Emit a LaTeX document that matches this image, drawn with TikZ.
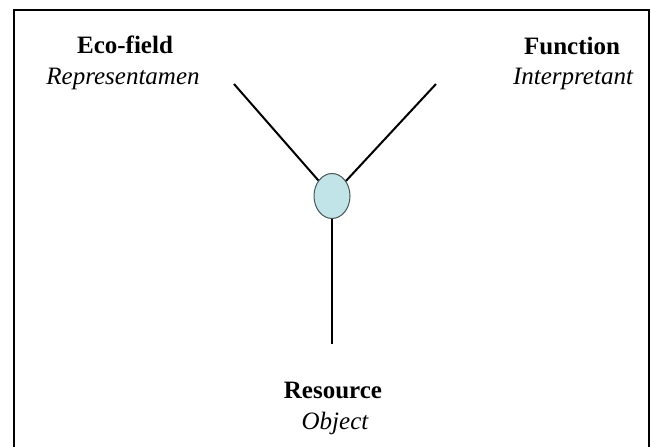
\documentclass[tikz,border=0pt]{standalone}
\usepackage{fontspec}
\setmainfont{Liberation Serif}
\usetikzlibrary{shapes.geometric}
\definecolor{hubfill}{RGB}{192,228,231}
\definecolor{hubline}{RGB}{70,85,85}
\tikzset{
  lbl/.style={anchor=base, inner sep=0pt, font=\fontsize{25}{30}\selectfont},
  title/.style={lbl, font=\fontsize{25}{30}\selectfont\bfseries},
  sub/.style={lbl, font=\fontsize{25}{30}\selectfont\itshape},
  arm/.style={line width=2pt, black},
  hub/.style={ellipse, draw=hubline, fill=hubfill, line width=1pt, minimum width=36pt, minimum height=45pt, inner sep=0pt}
}
\begin{document}
\begin{tikzpicture}[x=1pt,y=-1pt]
\useasboundingbox (0,0) rectangle (651,447);
\draw[line width=2.5pt] (14,470) -- (14,10) -- (649,10) -- (649,470);
\node[hub] (c) at (332,196) {};
\coordinate (l) at (234,84);
\coordinate (r) at (436,84);
\coordinate (b) at (332,344);
\draw[arm] (c) -- (l);
\draw[arm] (c) -- (r);
\draw[arm] (c) -- (b);
\node[title] (eco) at (125,53) {Eco-field};
\node[sub] (rep) at (123,84) {Representamen};
\node[title] (fun) at (572,54) {Function};
\node[sub] (int) at (573,84) {Interpretant};
\node[title] (res) at (333,398) {Resource};
\node[sub] (obj) at (335,429) {Object};
\end{tikzpicture}
\end{document}
